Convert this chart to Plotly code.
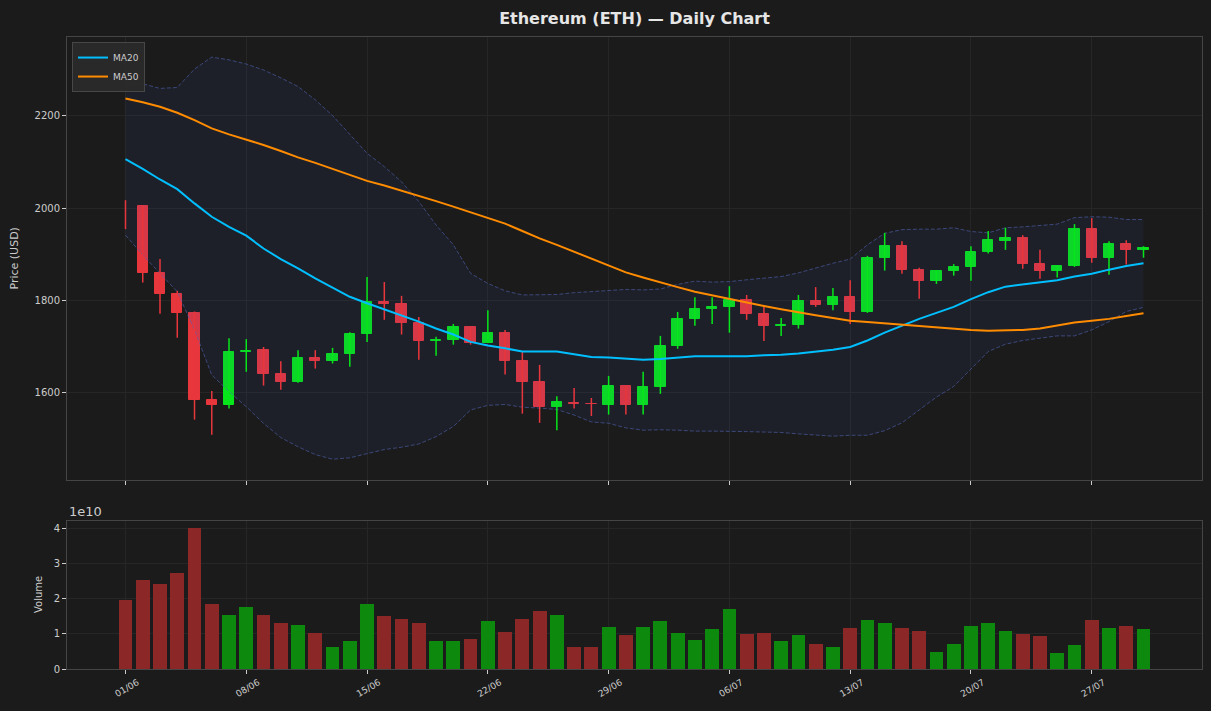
import pandas as pd
import plotly.graph_objects as go

# ---------------- data ----------------
start_date = "2024-06-01"
n_days = 60
dates = pd.date_range(start_date, periods=n_days, freq="D")

opens = [None, 2004, 1859, 1813, 1772, 1583, 1572, 1688, 1691, 1639,
         1622, 1674, 1668, 1683, 1727, 1796, 1791, 1750, 1711, 1714,
         1741, 1707, 1728, 1667, 1622, 1568, 1577, 1574, 1572, 1613,
         1572, 1611, 1701, 1759, 1780, 1785, 1800, 1770, 1744, 1746,
         1798, 1789, 1806, 1775, 1892, 1917, 1865, 1842, 1864, 1872,
         1905, 1929, 1935, 1878, 1862, 1875, 1954, 1892, 1922, 1909]
highs = [2017, 2004, 1889, 1820, 1775, 1602, 1717, 1715, 1698, 1667,
         1691, 1691, 1696, 1730, 1850, 1839, 1809, 1763, 1720, 1748,
         1741, 1778, 1735, 1688, 1659, 1591, 1609, 1587, 1635, 1613,
         1644, 1722, 1774, 1806, 1806, 1830, 1811, 1786, 1761, 1811,
         1828, 1826, 1843, 1896, 1946, 1928, 1870, 1865, 1878, 1917,
         1950, 1957, 1941, 1909, 1876, 1965, 1978, 1928, 1930, 1917]
lows = [1954, 1838, 1770, 1718, 1540, 1507, 1564, 1644, 1614, 1605,
        1620, 1651, 1662, 1655, 1709, 1757, 1725, 1670, 1679, 1703,
        1703, 1707, 1638, 1553, 1533, 1517, 1564, 1548, 1551, 1551,
        1551, 1596, 1694, 1744, 1748, 1729, 1757, 1711, 1722, 1738,
        1785, 1778, 1748, 1772, 1864, 1857, 1803, 1835, 1853, 1842,
        1901, 1909, 1868, 1846, 1849, 1872, 1881, 1855, 1877, 1892]
closes = [2004, 1859, 1814, 1772, 1583, 1572, 1687, 1690, 1640, 1622,
          1674, 1668, 1683, 1726, 1796, 1792, 1751, 1712, 1713, 1741,
          1707, 1728, 1668, 1622, 1568, 1578, 1575, 1573, 1613, 1572,
          1611, 1700, 1759, 1780, 1785, 1801, 1770, 1744, 1746, 1798,
          1789, 1806, 1775, 1891, 1917, 1866, 1842, 1863, 1872, 1904,
          1930, 1935, 1879, 1862, 1874, 1954, 1892, 1922, 1909, 1913]
volumes = [1.97e10, 2.53e10, 2.42e10, 2.73e10, 4.01e10, 1.85e10, 1.54e10, 1.77e10, 1.54e10, 1.29e10,
           1.26e10, 1.03e10, 0.63e10, 0.80e10, 1.83e10, 1.49e10, 1.43e10, 1.31e10, 0.80e10, 0.80e10,
           0.86e10, 1.37e10, 1.06e10, 1.43e10, 1.63e10, 1.54e10, 0.63e10, 0.63e10, 1.20e10, 0.97e10,
           1.20e10, 1.37e10, 1.03e10, 0.83e10, 1.14e10, 1.71e10, 1.00e10, 1.03e10, 0.80e10, 0.97e10,
           0.72e10, 0.63e10, 1.17e10, 1.40e10, 1.29e10, 1.17e10, 1.09e10, 0.49e10, 0.72e10, 1.23e10,
           1.29e10, 1.09e10, 1.00e10, 0.92e10, 0.46e10, 0.69e10, 1.40e10, 1.17e10, 1.23e10, 1.14e10]
ma20 = [2106, 2085, 2062, 2041, 2010, 1981, 1959, 1940, 1912, 1889,
        1869, 1847, 1827, 1807, 1793, 1780, 1767, 1753, 1738, 1725,
        1709, 1701, 1695, 1688, 1688, 1688, 1682, 1676, 1675, 1672,
        1670, 1672, 1675, 1678, 1678, 1678, 1678, 1680, 1681, 1684,
        1688, 1692, 1698, 1712, 1729, 1744, 1759, 1772, 1785, 1802,
        1817, 1829, 1834, 1839, 1843, 1851, 1857, 1866, 1874, 1880]
ma50 = [2238, 2230, 2220, 2207, 2191, 2173, 2160, 2149, 2137, 2124,
        2110, 2098, 2085, 2072, 2059, 2049, 2038, 2027, 2015, 2003,
        1991, 1979, 1966, 1950, 1934, 1920, 1905, 1891, 1876, 1860,
        1849, 1838, 1828, 1818, 1810, 1802, 1794, 1787, 1780, 1773,
        1767, 1761, 1755, 1752, 1749, 1746, 1743, 1740, 1737, 1735,
        1733, 1734, 1735, 1738, 1744, 1751, 1755, 1759, 1765, 1771]
bb_upper = [2272, 2270, 2260, 2262, 2302, 2328, 2322, 2313, 2300, 2283,
            2264, 2235, 2201, 2159, 2119, 2090, 2057, 2014, 1963, 1920,
            1858, 1836, 1820, 1811, 1811, 1812, 1816, 1818, 1820, 1823,
            1822, 1824, 1834, 1841, 1839, 1840, 1844, 1847, 1851, 1859,
            1870, 1880, 1889, 1920, 1945, 1953, 1954, 1954, 1957, 1949,
            1946, 1957, 1959, 1962, 1965, 1979, 1981, 1980, 1975, 1975]
bb_lower = [1941, 1898, 1858, 1818, 1735, 1637, 1601, 1568, 1532, 1501,
            1481, 1464, 1454, 1457, 1466, 1475, 1480, 1487, 1503, 1525,
            1561, 1571, 1573, 1567, 1565, 1562, 1550, 1535, 1532, 1522,
            1517, 1518, 1517, 1515, 1515, 1515, 1514, 1513, 1512, 1509,
            1507, 1504, 1506, 1506, 1516, 1533, 1561, 1589, 1612, 1649,
            1688, 1704, 1712, 1717, 1722, 1722, 1735, 1753, 1775, 1784]
price_ticks = [1600, 1800, 2000, 2200]
volume_ticks = [0, 1e10, 2e10, 3e10, 4e10]
volume_tick_labels = ["0", "1", "2", "3", "4"]
tick_every_days = 7

# ---------------- style ----------------
BG = "#1b1b1b"
GRID = "#262626"
SPINE = "#454545"
TXT = "#cccccc"
UP = "#07e61a"
DOWN = "#e8363d"
VOL_UP = "#0d8a0d"
VOL_DOWN = "#8b2727"
FONT = "DejaVu Sans"
DAY_MS = 86400000

is_up = [(o is not None and c > o) for o, c in zip(opens, closes)]
body_base = [o for o in opens]
body_height = [(c - o) if o is not None else None for o, c in zip(opens, closes)]

fig = go.Figure()

# Bollinger band
fig.add_trace(go.Scatter(x=dates, y=bb_lower, mode="lines", showlegend=False,
                         line=dict(color="rgba(80,100,180,0.6)", width=1, dash="4px,2px"),
                         hoverinfo="skip"))
fig.add_trace(go.Scatter(x=dates, y=bb_upper, mode="lines", showlegend=False, fill="tonexty",
                         fillcolor="rgba(57,77,167,0.10)",
                         line=dict(color="rgba(80,100,180,0.6)", width=1, dash="4px,2px"),
                         hoverinfo="skip"))

# wicks
for want_up, col in [(True, UP), (False, DOWN)]:
    wx, wy = [], []
    for d, h, l, u in zip(dates, highs, lows, is_up):
        if u == want_up:
            wx += [d, d, None]
            wy += [l, h, None]
    fig.add_trace(go.Scatter(x=wx, y=wy, mode="lines", showlegend=False,
                             line=dict(color=col, width=1.5), hoverinfo="skip"))

# bodies
body_colors = [UP if u else DOWN for u in is_up]
fig.add_trace(go.Bar(x=dates, y=body_height, base=body_base, width=0.6 * DAY_MS,
                     marker=dict(color=body_colors, line=dict(color=body_colors, width=1)),
                     showlegend=False, hoverinfo="skip"))

# moving averages
fig.add_trace(go.Scatter(x=dates, y=ma20, mode="lines", name="MA20",
                         line=dict(color="#00bfff", width=2)))
fig.add_trace(go.Scatter(x=dates, y=ma50, mode="lines", name="MA50",
                         line=dict(color="#ff8c00", width=2)))

# volume
vol_colors = [VOL_UP if u else VOL_DOWN for u in is_up]
fig.add_trace(go.Bar(x=dates, y=volumes, xaxis="x2", yaxis="y2", width=0.8 * DAY_MS,
                     marker=dict(color=vol_colors, line=dict(width=0)),
                     showlegend=False, hoverinfo="skip"))

x0 = dates[0] - pd.Timedelta(days=3.39)
x1 = dates[0] + pd.Timedelta(days=62.39)
tickvals = list(dates[::tick_every_days])
ticktext = [d.strftime("%d/%m") for d in tickvals]

axis_common = dict(showline=True, mirror=True, linecolor=SPINE, linewidth=1,
                   gridcolor=GRID, gridwidth=1, zeroline=False,
                   ticks="outside", ticklen=4, tickcolor=TXT, tickwidth=1,
                   tickfont=dict(family=FONT, size=10, color=TXT))

main_bottom = 0.299
vol_top = 0.234

fig.update_layout(
    width=1211, height=711,
    paper_bgcolor=BG, plot_bgcolor=BG,
    margin=dict(l=67, r=9, t=37, b=42),
    barmode="overlay",
    bargap=0,
    font=dict(family=FONT, color=TXT),
    title=dict(text="<b>Ethereum (ETH) — Daily Chart</b>", x=0.5, xref="paper", xanchor="center",
               y=1 - 18 / 711, yref="container", yanchor="middle",
               font=dict(family=FONT, size=16, color="#e6e6e6")),
    xaxis=dict(domain=[0, 1], anchor="y", type="date", range=[x0, x1], matches="x2",
               tickvals=tickvals, ticktext=ticktext, showticklabels=False, **axis_common),
    yaxis=dict(domain=[main_bottom, 1], anchor="x", range=[1408.7, 2371.7],
               tickvals=price_ticks, **axis_common),
    xaxis2=dict(domain=[0, 1], anchor="y2", type="date", range=[x0, x1],
                tickvals=tickvals, ticktext=ticktext, tickangle=-30, ticklabelshift=12,
                **{**axis_common, "tickfont": dict(family=FONT, size=9, color=TXT)}),
    yaxis2=dict(domain=[0, vol_top], anchor="x2", range=[0, 4.2e10],
                tickvals=volume_ticks, ticktext=volume_tick_labels, **axis_common),
    legend=dict(x=0.0044, y=0.992, xanchor="left", yanchor="top",
                traceorder="normal",
                bgcolor="rgba(42,42,42,0.95)", bordercolor="#474747", borderwidth=1,
                font=dict(family=FONT, size=9, color=TXT), itemwidth=30,
                tracegroupgap=0),
    annotations=[
        dict(text="Price (USD)", xref="paper", yref="paper", x=0, y=(main_bottom + 1) / 2,
             xshift=-52, xanchor="center", yanchor="middle", textangle=-90, showarrow=False,
             font=dict(family=FONT, size=11, color=TXT)),
        dict(text="Volume", xref="paper", yref="paper", x=0, y=vol_top / 2,
             xshift=-29, xanchor="center", yanchor="middle", textangle=-90, showarrow=False,
             font=dict(family=FONT, size=10, color=TXT)),
        dict(text="1e10", xref="paper", yref="paper", x=0, y=vol_top,
             xanchor="left", yanchor="bottom", showarrow=False, yshift=0,
             font=dict(family=FONT, size=13, color=TXT)),
    ],
)

fig.write_html("out.html")
